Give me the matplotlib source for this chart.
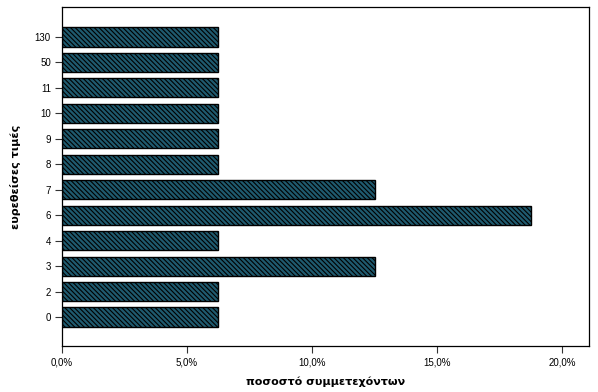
import matplotlib
matplotlib.use("Agg")
import matplotlib.pyplot as plt
from matplotlib.ticker import FuncFormatter

categories = ["0", "2", "3", "4", "6", "7", "8", "9", "10", "11", "50", "130"]
values = [6.25, 6.25, 12.5, 6.25, 18.75, 12.5, 6.25, 6.25, 6.25, 6.25, 6.25, 6.25]
xticks = [0, 5, 10, 15, 20]

plt.rcParams['hatch.color'] = 'black'
plt.rcParams['hatch.linewidth'] = 0.8
fig = plt.figure(figsize=(5.98, 3.92), dpi=100)
ax = fig.add_axes([62/598, 1 - 346/392, (589-62)/598, (346-7)/392])

ypos = list(range(len(categories)))
ax.barh(ypos, values, height=0.75, color='#1f5a6e', edgecolor='black',
        hatch='\\' * 7, linewidth=1.0)
ax.set_yticks(ypos)
ax.set_yticklabels(categories, fontsize=7, family='Liberation Sans')
ax.set_xticks(xticks)
ax.xaxis.set_major_formatter(FuncFormatter(lambda v, p: f"{v:.1f}%".replace('.', ',')))
for lab in ax.get_xticklabels():
    lab.set_fontsize(7)
    lab.set_family('Liberation Sans')
ax.set_xlim(0, 21.08)
ax.set_ylim(-1.14, 11 + 1.18)
ax.tick_params(axis='both', length=5, width=0.8, color='#333333', pad=3)
for s in ax.spines.values():
    s.set_linewidth(0.9)
ax.set_xlabel("ποσοστό συμμετεχόντων", fontsize=8, fontweight='bold', labelpad=7)
ax.set_ylabel("ευρεθείσες τιμές", fontsize=8, fontweight='bold', labelpad=10)
fig.savefig("out.png", dpi=100)
